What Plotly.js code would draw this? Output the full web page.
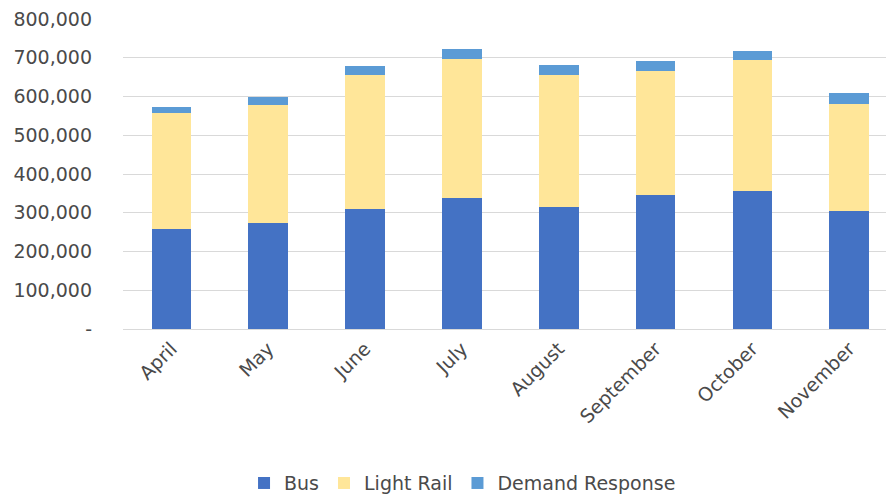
<!DOCTYPE html>
<html>
<head>
<meta charset="utf-8">
<script src="https://cdn.plot.ly/plotly-3.0.1.min.js"></script>
<style>html,body{margin:0;padding:0;background:#fff;}#chart{width:886px;height:495px;}</style>
</head>
<body>
<div id="chart"></div>
<script>
const months = ["April","May","June","July","August","September","October","November"];
const bus = [258000, 273000, 309000, 337000, 315000, 345000, 356000, 304000];
const lightRail = [299000, 305000, 347000, 360000, 341000, 322000, 337000, 277000];
const demandResponse = [16000, 21000, 22000, 26000, 26000, 24000, 25000, 28000];
const yTickVals = [0, 100000, 200000, 300000, 400000, 500000, 600000, 700000, 800000];
const yTickText = ["-", "100,000", "200,000", "300,000", "400,000", "500,000", "600,000", "700,000", "800,000"];

const font = {family: "DejaVu Sans, sans-serif", size: 19, color: "#4a4a4a"};
const traces = [
  {type: "bar", name: "Bus", x: months, y: bus, marker: {color: "#4472C4"}},
  {type: "bar", name: "Light Rail", x: months, y: lightRail, marker: {color: "#FFE699"}},
  {type: "bar", name: "Demand Response", x: months, y: demandResponse, marker: {color: "#5B9BD5"}}
];
const layout = {
  width: 886, height: 495,
  barmode: "stack",
  bargap: 0.59,
  margin: {l: 123, r: 0, t: 19, b: 166, autoexpand: false},
  paper_bgcolor: "#fff", plot_bgcolor: "#fff",
  font: font,
  showlegend: true,
  legend: {orientation: "h", x: 0.445, xanchor: "center", yref: "container", y: 0.024, yanchor: "middle",
           font: font, traceorder: "normal", itemwidth: 30},
  xaxis: {type: "category", range: [-0.5, 7.38], tickangle: -45, tickfont: font,
          showgrid: false, zeroline: false, showline: false, ticks: "", ticklabelstandoff: 4, automargin: false},
  yaxis: {range: [0, 800000], tickvals: yTickVals, ticktext: yTickText, tickfont: font,
          showgrid: true, gridcolor: "#d9d9d9", gridwidth: 1, zeroline: true, zerolinecolor: "#d9d9d9",
          ticks: "", ticklabelstandoff: 30, automargin: false}
};
Plotly.newPlot("chart", traces, layout, {displayModeBar: false, staticPlot: true});
</script>
</body>
</html>
